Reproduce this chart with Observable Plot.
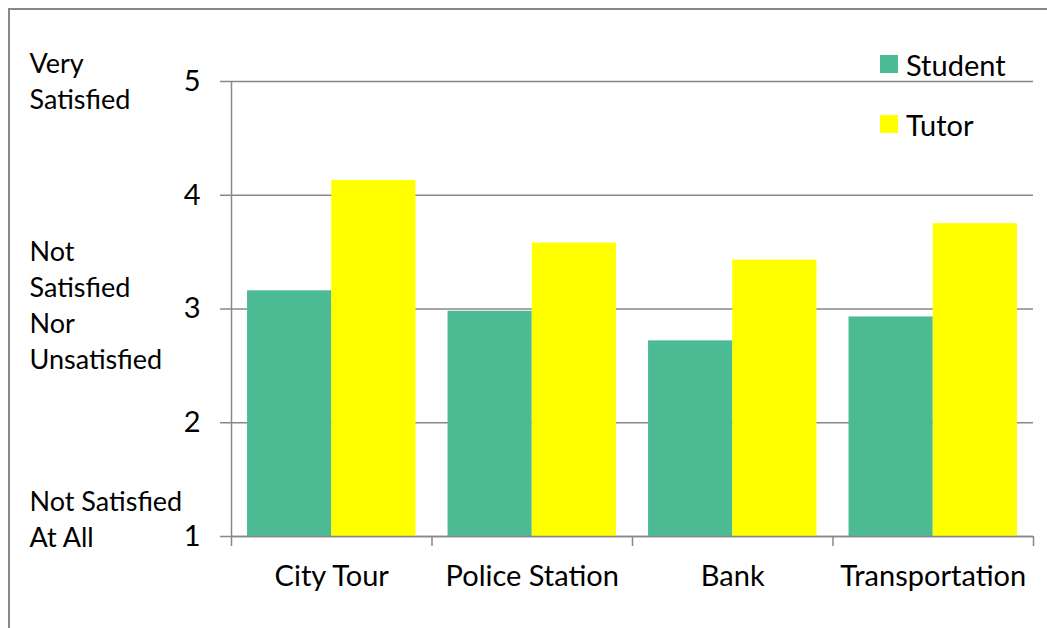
<!DOCTYPE html>
<html>
<head>
<meta charset="utf-8">
<script src="https://cdn.jsdelivr.net/npm/d3@7"></script>
<script src="https://cdn.jsdelivr.net/npm/@observablehq/plot@0.6"></script>
<style>
  html, body { margin: 0; padding: 0; background: #fff; }
  #wrap { position: relative; width: 1047px; height: 628px; overflow: hidden; font-family: Lato, sans-serif; }
  #border { position: absolute; left: 8px; top: 8px; right: -5px; bottom: -5px; border-left: 2px solid #888; border-top: 2px solid #888; pointer-events: none; }
  #legend { position: absolute; left: 880px; top: 46px; font-size: 29px; color: #000; }
  #legend .item { display: flex; align-items: center; height: 36px; margin-bottom: 24px; }
  #legend .sw { width: 18px; height: 18px; margin-right: 8px; }
</style>
</head>
<body>
<div id="wrap">
  <div id="chart"></div>
  <div id="legend"></div>
  <div id="border"></div>
</div>
<script>
const categories = ["City Tour", "Police Station", "Bank", "Transportation"];
const series = ["Student", "Tutor"];
const studentValues = [3.16, 2.98, 2.72, 2.93];
const tutorValues = [4.13, 3.58, 3.43, 3.75];
const yTicks = [1, 2, 3, 4, 5];
const scaleLabels = ["Very\nSatisfied", "Not\nSatisfied\nNor\nUnsatisfied", "Not Satisfied\nAt All"];
const scaleLabelValues = [5.02, 3.05, 1.17];
const colors = ["#4CBB94", "#FFFF00"];

const gap = 0.08;
const rows = categories.flatMap((c, i) => [
  {category: c, series: series[0], x1: i + gap, x2: i + 0.5, value: studentValues[i]},
  {category: c, series: series[1], x1: i + 0.5, x2: i + 1 - gap, value: tutorValues[i]}
]);
const labelRows = scaleLabels.map((t, i) => ({text: t, y: scaleLabelValues[i]}));
const boundaries = d3.range(categories.length + 1);
const centers = categories.map((c, i) => i + 0.5);

const plot = Plot.plot({
  width: 1047,
  height: 628,
  marginLeft: 231,
  marginRight: 14,
  marginTop: 81,
  marginBottom: 92,
  style: {fontFamily: "Lato, sans-serif", fontSize: "29px", color: "#000", background: "transparent"},
  x: {domain: [0, categories.length]},
  y: {domain: [1, 5]},
  color: {domain: series, range: colors},
  marks: [
    Plot.gridY(yTicks, {stroke: "#888", strokeOpacity: 1, strokeWidth: 1.5}),
    Plot.rectY(rows, {x1: "x1", x2: "x2", y1: 1, y2: "value", fill: "series"}),
    Plot.ruleX([0], {y1: 1, y2: 5, stroke: "#888", strokeWidth: 1.5}),
    Plot.ruleY([1], {stroke: "#888", strokeWidth: 1.5}),
    Plot.axisY({ticks: yTicks, tickSize: 11, tickPadding: 20, stroke: "#888", strokeWidth: 1.5, fontSize: 29, tickFormat: d3.format("d"), label: null}),
    Plot.axisX({ticks: boundaries, tickSize: 10, tickFormat: () => "", stroke: "#888", strokeWidth: 1.5, label: null}),
    Plot.axisX({ticks: centers, tickSize: 0, tickPadding: 29, tickFormat: d => categories[Math.floor(d)], fontSize: 29, label: null}),
    Plot.text(labelRows, {text: "text", y: "y", frameAnchor: "left", dx: -202, textAnchor: "start", lineHeight: 1.33, fontSize: 27, fill: "#000"})
  ]
});
document.getElementById("chart").appendChild(plot);

const legend = document.getElementById("legend");
series.forEach((s, i) => {
  const item = document.createElement("div");
  item.className = "item";
  const sw = document.createElement("span");
  sw.className = "sw";
  sw.style.background = colors[i];
  const label = document.createElement("span");
  label.textContent = s;
  item.appendChild(sw);
  item.appendChild(label);
  legend.appendChild(item);
});
</script>
</body>
</html>
